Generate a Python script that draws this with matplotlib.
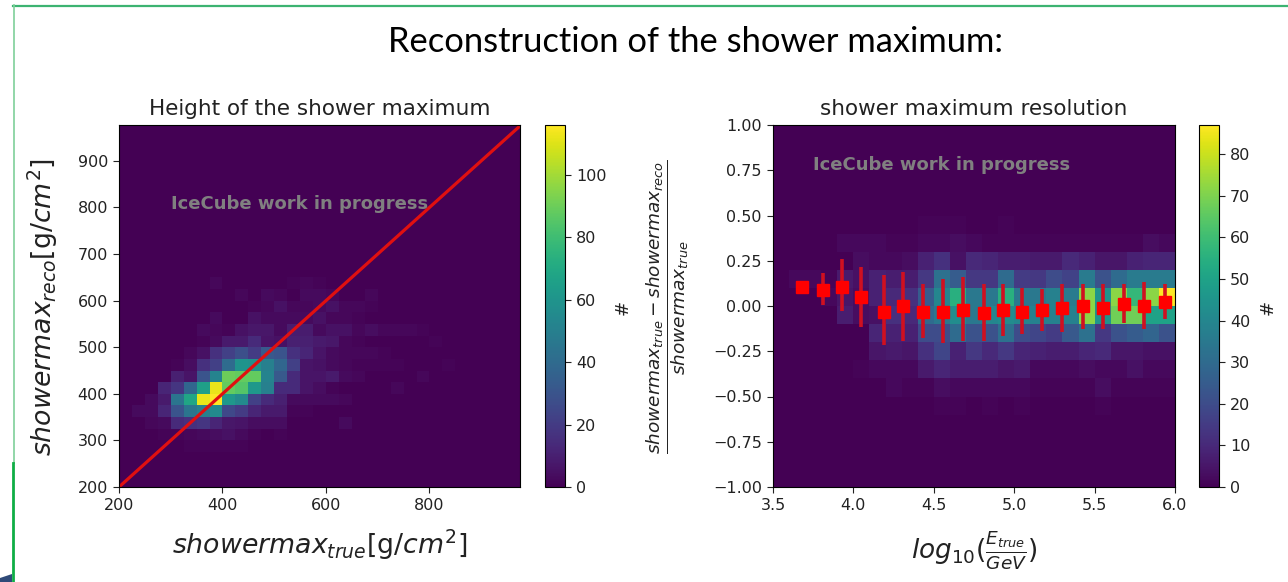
import numpy as np
import matplotlib
matplotlib.use("Agg")
import matplotlib.pyplot as plt
from matplotlib.lines import Line2D
from matplotlib.patches import Polygon

# left panel histogram, rows from the bottom (25 g/cm2 bins), missing cols are 0
left_rows = [
    [],
    [],
    [],
    [0, 0, 0, 0, 0, 1, 1, 1, 1, 1],
    [0, 0, 0, 1, 1, 2, 3, 4, 5, 3, 1, 0, 1],
    [0, 0, 2, 3, 14, 16, 18, 12, 7, 6, 4, 4, 4, 0, 0, 0, 0, 3],
    [0, 3, 3, 12, 30, 45, 50, 55, 25, 20, 12, 8, 8, 1, 1],
    [0, 0, 3, 8, 45, 68, 112, 116, 62, 55, 22, 14, 10, 3, 3, 3, 3, 2],
    [0, 0, 0, 12, 18, 38, 65, 112, 88, 85, 62, 50, 14, 14, 6, 4, 1, 0, 0, 0, 0, 2],
    [0, 0, 0, 0, 10, 6, 30, 52, 90, 88, 88, 52, 32, 14, 6, 6, 8, 3, 2, 0, 0, 0, 0, 2],
    [0, 0, 0, 0, 1, 4, 16, 22, 40, 60, 58, 50, 38, 22, 6, 5, 3, 2, 1, 1, 1, 1, 0, 0, 0, 1],
    [0, 0, 0, 0, 0, 2, 5, 16, 22, 28, 20, 32, 30, 16, 12, 6, 3, 2, 2, 2, 1],
    [0, 0, 0, 0, 0, 0, 1, 3, 8, 8, 14, 6, 5, 10, 10, 8, 7, 2, 1, 0, 0, 0, 0, 0, 1],
    [0, 0, 0, 0, 0, 0, 3, 2, 1, 5, 7, 7, 3, 9, 9, 3, 5, 5, 2, 4, 2, 2, 2, 1],
    [0, 0, 0, 0, 0, 0, 0, 3, 0, 0, 5, 3, 3, 3, 3, 5, 2, 2, 1],
    [0, 0, 0, 0, 0, 0, 0, 0, 0, 0, 1, 2, 5, 2, 2, 3, 5, 2, 2, 1],
    [0, 0, 0, 0, 0, 0, 0, 0, 0, 2, 0, 3, 2, 0, 3, 3, 2, 0, 0, 2],
    [0, 0, 0, 0, 0, 0, 0, 2, 0, 0, 0, 0, 0, 1, 2, 1],
]
# right panel histogram, rows from y=-1 upwards (0.1 bins), 25 energy cols
right_rows = [
    [], [], [], [],
    [0]*10 + [1, 1, 0, 1, 0, 1, 0, 0, 0, 0, 1, 0, 0, 0, 0],
    [0]*7 + [2, 1, 1, 3, 2, 2, 2, 2, 2, 1, 1, 1, 1, 3, 1, 1, 1, 1],
    [0]*5 + [1, 2, 2, 2, 6, 9, 7, 7, 7, 5, 6, 2, 2, 2, 3, 2, 2, 4, 2, 2],
    [0]*6 + [5, 6, 5, 12, 18, 8, 14, 10, 14, 9, 8, 7, 7, 9, 10, 5, 5, 4, 4],
    [0]*6 + [9, 8, 8, 20, 20, 30, 22, 22, 32, 20, 18, 15, 24, 32, 14, 22, 25, 28, 22],
    [0]*4 + [7, 3, 4, 12, 10, 30, 35, 42, 35, 40, 42, 40, 38, 38, 38, 72, 45, 68, 68, 50, 50],
    [0]*3 + [2, 5, 3, 8, 10, 12, 25, 40, 55, 35, 35, 55, 35, 35, 38, 36, 72, 45, 72, 58, 72, 87],
    [0, 2, 2, 1, 6, 4, 8, 7, 7, 14, 32, 25, 14, 14, 30, 15, 14, 20, 17, 36, 22, 30, 36, 36, 36],
    [0]*5 + [3, 2, 2, 3, 8, 12, 4, 10, 9, 7, 7, 6, 6, 10, 8, 5, 5, 8, 9, 9],
    [0]*4 + [2, 2, 2, 1, 1, 2, 2, 3, 2, 1, 1, 1, 1, 1, 1, 1, 1, 1, 1, 3, 2],
    [0]*9 + [1, 1, 1, 0, 0, 1],
]
line_x = [200, 975]
line_y = [200, 975]
energy = [3.68, 3.81, 3.93, 4.05, 4.19, 4.31, 4.43, 4.56, 4.68, 4.81, 4.93, 5.05, 5.17,
          5.30, 5.43, 5.55, 5.68, 5.81, 5.94]
res_mean = [0.107, 0.088, 0.107, 0.048, -0.031, 0.0, -0.031, -0.031, -0.022, -0.04,
            -0.022, -0.031, -0.022, -0.013, 0.0, -0.013, 0.011, 0.0, 0.02]
res_up = [0.0, 0.092, 0.151, 0.169, 0.203, 0.19, 0.153, 0.182, 0.184, 0.162,
          0.144, 0.133, 0.114, 0.134, 0.122, 0.134, 0.11, 0.131, 0.101]
res_down = [0.0, 0.083, 0.133, 0.162, 0.184, 0.193, 0.144, 0.174, 0.171, 0.153,
            0.142, 0.123, 0.114, 0.133, 0.127, 0.114, 0.107, 0.127, 0.094]


def pad(rows, ncols, nrows):
    out = np.zeros((nrows, ncols))
    for i, r in enumerate(rows):
        out[i, :len(r)] = r
    return out


W, H = 1288, 582


def box(x0, y0, x1, y1):
    return [x0/W, 1-y1/H, (x1-x0)/W, (y1-y0)/H]


fig = plt.figure(figsize=(12.88, 5.82), dpi=100)
tsize = 11.5

# panel 1
ax = fig.add_axes(box(119, 125, 520, 487))
xe = np.linspace(200, 975, 32)
ye = np.linspace(200, 975, 32)
m = ax.pcolormesh(xe, ye, pad(left_rows, 31, 31), cmap="viridis", vmin=0, vmax=116)
ax.plot(line_x, line_y, color="#e01010", lw=2.3)
ax.set_xlim(200, 975)
ax.set_ylim(200, 977)
ax.set_xticks([200, 400, 600, 800])
ax.set_yticks([200, 300, 400, 500, 600, 700, 800, 900])
ax.tick_params(labelsize=tsize, length=4.5, color="#222222", labelcolor="#222222")
ax.set_title("Height of the shower maximum", fontsize=15.5, color="#222222", pad=7)
ax.text(300, 808, "IceCube work in progress", color="#808080", fontsize=13, fontweight="bold",
        va="center")
fig.text(43/W, 1-307/H, r"$showermax_{reco}[\mathrm{g}/cm^2]$", fontsize=19.3, rotation=90,
         ha="center", va="center", color="#222222")
fig.text(320/W, 1-545/H, r"$showermax_{true}[\mathrm{g}/cm^2]$", fontsize=19.3,
         ha="center", va="center", color="#222222")
cax = fig.add_axes(box(545, 125, 565, 487))
cb = fig.colorbar(m, cax=cax)
cb.set_ticks([0, 20, 40, 60, 80, 100])
cb.ax.tick_params(labelsize=tsize, length=4.5, color="#222222", labelcolor="#222222")
fig.text(623/W, 1-307/H, "#", fontsize=13, rotation=90, ha="center", va="center", color="#222222")

# panel 2
ax2 = fig.add_axes(box(773, 125, 1175, 487))
xe2 = np.linspace(3.5, 6.0, 26)
ye2 = np.linspace(-1, 1, 21)
m2 = ax2.pcolormesh(xe2, ye2, pad(right_rows, 25, 20), cmap="viridis", vmin=0, vmax=87)
ax2.errorbar(energy, res_mean, yerr=[res_down, res_up], fmt="s", color="red", ecolor="#d01020",
             ms=8.5, elinewidth=2.6)
ax2.set_xlim(3.5, 6.0)
ax2.set_ylim(-1, 1)
ax2.set_xticks([3.5, 4.0, 4.5, 5.0, 5.5, 6.0])
ax2.set_yticks(np.arange(-1, 1.01, 0.25))
ax2.tick_params(labelsize=tsize, length=4.5, color="#222222", labelcolor="#222222")
ax2.set_title("shower maximum resolution", fontsize=15.5, color="#222222", pad=7)
ax2.text(3.75, 0.78, "IceCube work in progress", color="#808080", fontsize=13, fontweight="bold",
         va="center")
fig.text(668/W, 1-307/H,
         r"$\frac{showermax_{true} - showermax_{reco}}{showermax_{true}}$",
         fontsize=19, rotation=90, ha="center", va="center", color="#222222")
fig.text(974/W, 1-550/H, r"$log_{10}(\frac{E_{true}}{GeV})$", fontsize=19,
         ha="center", va="center", color="#222222")
cax2 = fig.add_axes(box(1199, 125, 1219, 487))
cb2 = fig.colorbar(m2, cax=cax2)
cb2.set_ticks(np.arange(0, 81, 10))
cb2.ax.tick_params(labelsize=tsize, length=4.5, color="#222222", labelcolor="#222222")
fig.text(1268/W, 1-307/H, "#", fontsize=13, rotation=90, ha="center", va="center", color="#222222")

# slide parts around the plots
fig.text(696/W, 1-42/H, "Reconstruction of the shower maximum:", family="Lato", fontsize=24.8,
         ha="center", va="center", color="black")
fig.add_artist(Line2D([13/W, 1], [1-5.5/H, 1-5.5/H], color="#3cb371", lw=1.6))
fig.add_artist(Line2D([13.5/W, 13.5/W], [1-5/H, 1-463/H], color="#7fd09a", lw=1.2))
fig.add_artist(Line2D([13/W, 13/W], [1-463/H, 0], color="#0fae45", lw=2))
fig.add_artist(Polygon([[0, 0], [12/W, 0], [12/W, 1-574/H], [0, 1-578/H]], closed=True,
                       transform=fig.transFigure, color="#2f4a78", lw=0))

fig.savefig("out.png", dpi=100)
